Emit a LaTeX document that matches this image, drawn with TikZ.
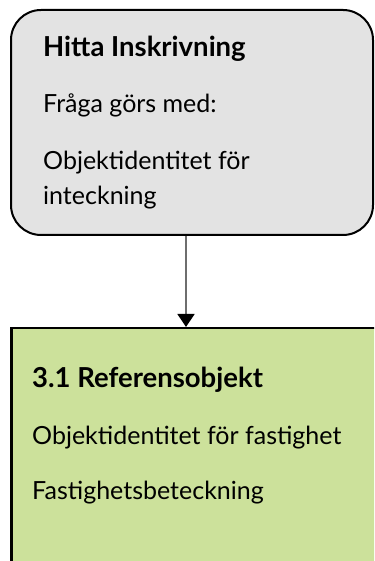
\documentclass[tikz,border=0pt]{standalone}
\usepackage{fontspec}
\setmainfont{Lato}
\usetikzlibrary{arrows.meta}
\begin{document}
\begin{tikzpicture}[x=1pt, y=1pt,
    txt/.style={anchor=base west, inner sep=0pt, font=\fontsize{25}{30}\selectfont},
    head/.style={txt, font=\fontsize{27.5}{33}\selectfont\bfseries}]
  % Define colors
  \definecolor{queryfill}{RGB}{227,227,227}
  \definecolor{objfill}{RGB}{204,225,155}
  \definecolor{linkgray}{RGB}{110,110,110}

  % Frame
  \useasboundingbox (0,0) rectangle (374,561);
  \clip (0,0) rectangle (374,561);

  % Query box
  \node[draw=black, line width=2pt, fill=queryfill, rounded corners=30pt,
    minimum width=362pt, minimum height=225pt, inner sep=0pt] (query) at (192,438.5) {};
  \node[head] (queryhead) at (43,504) {Hitta Inskrivning};
  \node[txt] (queryline1) at (43,448) {Fråga görs med:};
  \node[txt] (queryline2) at (43,391) {Objektidentitet för};
  \node[txt] (queryline3) at (43,356) {inteckning};

  % Reference object box
  \node[draw=black, line width=2.5pt, fill=objfill,
    minimum width=380pt, minimum height=250pt, inner sep=0pt, anchor=north west] (refobj) at (10,234) {};
  \node[head] (refhead) at (32,173) {3.1 Referensobjekt};
  \node[txt] (refline1) at (32,116) {Objektidentitet för fastighet};
  \node[txt] (refline2) at (32,61) {Fastighetsbeteckning};

  % Connector
  \coordinate (linkx) at (186,0);
  \draw[linkgray, line width=1.5pt, -{Triangle[width=17pt, length=13pt, color=black]}]
    (query.south -| linkx) -- (refobj.north -| linkx);
\end{tikzpicture}
\end{document}
